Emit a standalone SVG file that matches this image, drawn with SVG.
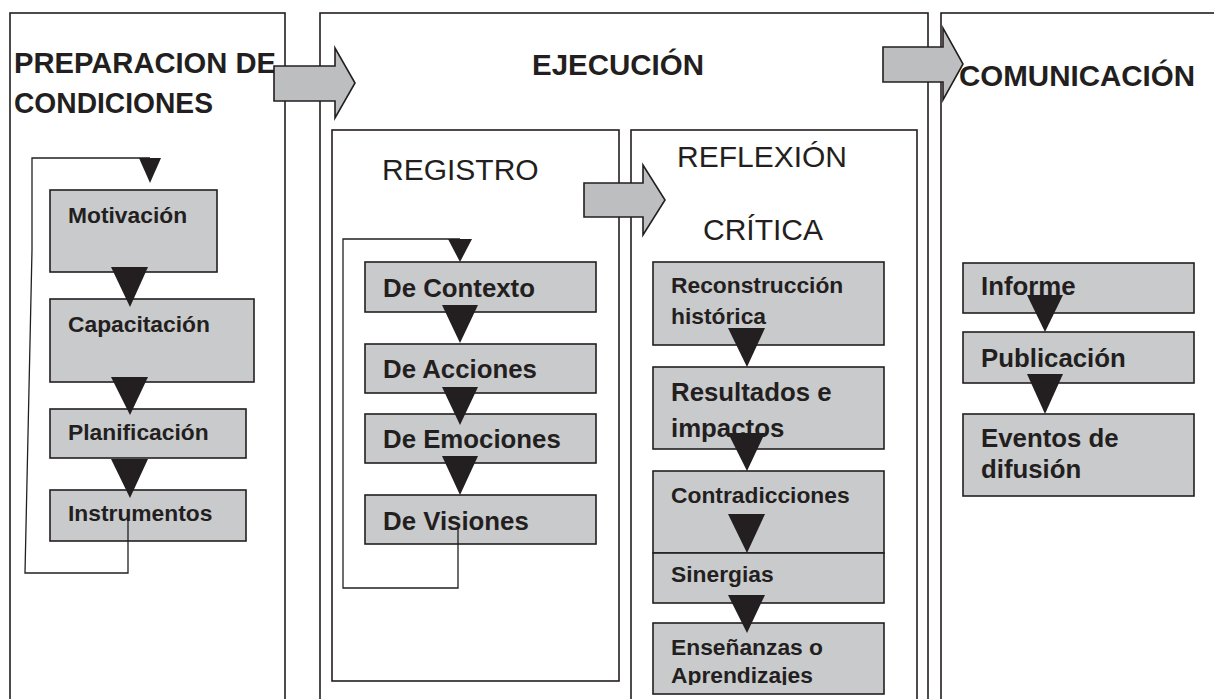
<svg xmlns="http://www.w3.org/2000/svg" width="1214" height="699" viewBox="0 0 1214 699">
<style>
.col{fill:none;stroke:#231f20;stroke-width:1.6}
.box{fill:#c9cacc;stroke:#231f20;stroke-width:1.6}
.big{fill:#bdbec0;stroke:#231f20;stroke-width:1.6;stroke-linejoin:miter}
.tri{fill:#231f20;stroke:none}
.loop{fill:none;stroke:#231f20;stroke-width:1.3}
text{font-family:"Liberation Sans",Arial,sans-serif;fill:#231f20}
.h{font-weight:bold;font-size:29px}
.r{font-size:30px}
.s{font-weight:bold;font-size:22.8px}
.m{font-weight:bold;font-size:25.8px}
</style>
<defs>
<clipPath id="clipEns"><rect x="640" y="600" width="260" height="85"/></clipPath>
</defs>
<rect width="1214" height="699" fill="#ffffff"/>

<g id="col-preparacion">
<rect class="col" x="10" y="13" width="275" height="720"/>
<text class="h" x="14" y="73" textLength="262" lengthAdjust="spacingAndGlyphs">PREPARACION DE</text>
<text class="h" x="14" y="113" textLength="199" lengthAdjust="spacingAndGlyphs">CONDICIONES</text>
</g>
<g id="col-ejecucion">
<rect class="col" x="320" y="13" width="608" height="720"/>
<text class="h" x="532" y="75" textLength="172" lengthAdjust="spacingAndGlyphs">EJECUCIÓN</text>
</g>
<g id="col-comunicacion">
<rect class="col" x="941" y="13" width="300" height="720"/>
<text class="h" x="959" y="86" textLength="236" lengthAdjust="spacingAndGlyphs">COMUNICACIÓN</text>
</g>
<g id="registro">
<rect class="col" x="332" y="130" width="287" height="551"/>
<text class="r" x="382" y="180">REGISTRO</text>
</g>
<g id="reflexion">
<rect class="col" x="631" y="130" width="286" height="600"/>
<text class="r" x="677" y="167">REFLEXIÓN</text>
<text class="r" x="703" y="240">CRÍTICA</text>
</g>

<g id="motivacion"><rect class="box" x="50" y="190" width="167" height="82"/><text class="s" x="68" y="223">Motivación</text></g>
<g id="capacitacion"><rect class="box" x="50" y="299" width="204" height="83"/><text class="s" x="68" y="332">Capacitación</text></g>
<g id="planificacion"><rect class="box" x="50" y="409" width="196" height="49"/><text class="s" x="68" y="440">Planificación</text></g>
<g id="instrumentos"><rect class="box" x="50" y="490" width="196" height="51"/><text class="s" x="68" y="521">Instrumentos</text></g>

<g id="de-contexto"><rect class="box" x="365" y="262" width="231" height="50"/><text class="m" x="383" y="297">De Contexto</text></g>
<g id="de-acciones"><rect class="box" x="365" y="344" width="231" height="49"/><text class="m" x="383" y="378">De Acciones</text></g>
<g id="de-emociones"><rect class="box" x="365" y="414" width="231" height="49"/><text class="m" x="383" y="448">De Emociones</text></g>
<g id="de-visiones"><rect class="box" x="365" y="495" width="231" height="49"/><text class="m" x="383" y="530">De Visiones</text></g>

<g id="reconstruccion"><rect class="box" x="653" y="262" width="231" height="83"/><text class="s" x="671" y="293">Reconstrucción</text><text class="s" x="671" y="324">histórica</text></g>
<g id="resultados"><rect class="box" x="653" y="367" width="231" height="82"/><text class="m" x="671" y="401">Resultados e</text><text class="m" x="671" y="437">impactos</text></g>
<g id="contradicciones"><rect class="box" x="653" y="471" width="231" height="82"/><text class="s" x="671" y="503">Contradicciones</text></g>
<g id="sinergias"><rect class="box" x="653" y="553" width="231" height="50"/><text class="s" x="671" y="582">Sinergias</text></g>
<g id="ensenanzas"><rect class="box" x="653" y="623" width="231" height="71"/><g clip-path="url(#clipEns)"><text class="s" x="671" y="655">Enseñanzas o</text><text class="s" x="671" y="683">Aprendizajes</text></g></g>

<g id="informe"><rect class="box" x="963" y="263" width="231" height="50"/><text class="m" x="981" y="295">Informe</text></g>
<g id="publicacion"><rect class="box" x="963" y="332" width="231" height="51"/><text class="m" x="981" y="367">Publicación</text></g>
<g id="eventos"><rect class="box" x="963" y="414" width="231" height="82"/><text class="m" x="981" y="447">Eventos de</text><text class="m" x="981" y="478">difusión</text></g>

<g id="connectors">
<path class="big" d="M274,66 H335 V48 L355,83 L335,118 V101 H274 Z"/>
<path class="big" d="M584,183 H643 V165 L665,200 L643,235 V217 H584 Z"/>
<path class="big" d="M883,47 H943 V28 L963,64 L943,100 V82 H883 Z"/>

<polyline class="loop" points="128,520 128,573 25,573 32,250 32,158 150,158"/>
<polygon class="tri" points="139,158 161,158 150,183"/>
<polygon class="tri" points="111,267 148,267 130,307"/>
<polygon class="tri" points="111,377 148,377 130,415"/>
<polygon class="tri" points="111,459 148,459 130,498"/>

<polyline class="loop" points="458,528 458,588 343,588 343,239 460,239"/>
<polygon class="tri" points="448,239 472,239 460,262"/>
<polygon class="tri" points="442,305 478,305 460,343"/>
<polygon class="tri" points="442,387 478,387 460,425"/>
<polygon class="tri" points="442,456 478,456 460,495"/>

<polygon class="tri" points="728,328 765,328 747,367"/>
<polygon class="tri" points="728,433 765,433 747,471"/>
<polygon class="tri" points="728,514 765,514 747,553"/>
<polygon class="tri" points="728,595 765,595 747,633"/>

<polygon class="tri" points="1027,295 1063,295 1045,332"/>
<polygon class="tri" points="1027,374 1063,374 1045,414"/>
</g>
</svg>
